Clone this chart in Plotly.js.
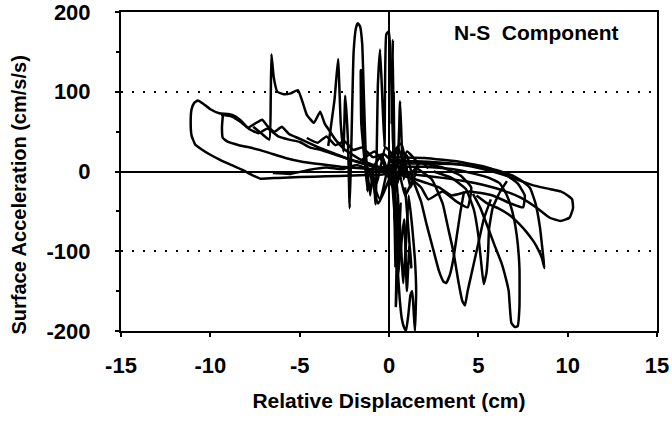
<!DOCTYPE html>
<html>
<head>
<meta charset="utf-8">
<script src="https://cdn.plot.ly/plotly-3.0.1.min.js"></script>
<style>
  html, body { margin: 0; padding: 0; background: #fff; }
  #chart { width: 672px; height: 423px; }
</style>
</head>
<body>
<div id="chart"></div>
<script>
// ---- Data (relative displacement cm, surface acceleration cm/s/s) ----
var outerLeftX = [0.6, -0.5, -2.0, -3.5, -5.0, -6.2, -7.2, -7.7, -8.2, -8.8, -9.4, -10.0, -10.5, -10.85, -11.05, -11.1, -11.05, -10.9, -10.7, -10.4, -10.0, -9.5, -9.0, -8.6, -8.2, -7.9, -7.5, -7.1, -6.8, -6.4, -6.0, -5.6, -5.1, -4.5, -3.8, -3.0, -2.2, -1.3, -0.4, 0.3];
var outerLeftY = [-2, -4, -5, -6, -7, -8, -9, -4, 2, 8, 14, 21, 28, 34, 45, 62, 78, 86, 89, 85, 78, 73, 72, 69, 62, 55, 60, 65, 57, 50, 56, 47, 42, 36, 29, 22, 15, 9, 4, 1];

var innerLeftX = [-9.3, -9.35, -9.3, -9.0, -8.4, -7.6, -6.8, -5.8, -4.8, -3.8, -2.7, -1.6, -0.5, 0.4];
var innerLeftY = [70, 55, 42, 37, 33, 29, 24, 17, 12, 9, 6, 4, 2, 0];

var upperLeftX = [-9.4, -8.8, -8.3, -7.8, -7.3, -6.8, -6.2, -5.6, -5.0, -4.4, -3.8, -3.0, -2.0, -1.0, 0.0];
var upperLeftY = [71, 69, 62, 53, 48, 54, 44, 40, 37, 30, 27, 21, 14, 7, 2];

var spikeLeftX = [-7.6, -7.1, -6.7, -6.62, -6.58, -6.45, -6.25, -5.9, -5.5, -5.1, -4.85, -4.6, -4.2, -3.85, -3.6, -3.3, -3.0, -2.5, -1.6, -0.6, 0.3];
var spikeLeftY = [56, 47, 40, 90, 147, 118, 100, 97, 98, 102, 88, 71, 61, 75, 60, 50, 40, 28, 15, 6, 0];

var upperMidX = [-4.6, -4.0, -3.5, -3.0, -2.5, -2.0, -1.5, -0.9, -0.3, 0.4, 1.0];
var upperMidY = [42, 36, 44, 33, 38, 27, 30, 18, 22, 8, 4];

var lowerLeftX = [-6.5, -5.5, -4.5, -3.5, -2.6, -1.8, -1.0, -0.2, 0.5];
var lowerLeftY = [-2, -3, 2, 5, 3, 8, 2, 6, -2];

var spikesCenterX = [-3.4, -3.05, -2.85, -2.7, -2.55, -2.45, -2.3, -2.2, -2.1, -1.98, -1.85, -1.75, -1.62, -1.5, -1.4, -1.3, -1.2, -1.55, -1.58, -1.45, -1.25, -1.05, -0.9, -0.75, -0.62, -0.5, -0.38, -0.25, -0.15, 0.0, 0.12, 0.22, 0.35, 0.5, 0.62, 0.72, 0.82, 0.95];
var spikesCenterY = [32, 90, 141, 60, 25, 95, 40, -46, 40, 150, 180, 186, 182, 160, 90, 20, -25, 60, 127, 70, 10, -30, 5, -41, 110, 153, 95, 30, 172, 176, 120, 40, 0, 15, 88, 30, -10, 5];

var negSpikesX = [0.1, 0.3, 0.45, 0.6, 0.72, 0.82, 0.95, 1.08, 1.2, 1.3, 1.38, 1.45, 1.52, 1.45, 1.3, 1.1, 0.95, 0.8, 0.62, 0.45, 0.3];
var negSpikesY = [10, -50, -110, -160, -185, -194, -200, -180, -155, -150, -175, -200, -150, -110, -70, -30, -90, -140, -70, -20, 5];

var nearZeroX = [0.15, 0.22, 0.3, 0.26, 0.36, 0.24, 0.42, 0.5, 0.38, 0.55, 0.65, 0.5, 0.85, 1.0, 1.15, 1.25, 0.9];
var nearZeroY = [60, 165, -60, 100, -120, 40, -80, -30, -170, -95, -40, -130, -60, -150, -90, -120, -20];

var centerMassX = [-1.5, -0.8, -0.3, 0.2, 0.6, 1.0, 1.3, 0.9, 0.4, -0.2, -0.7, -1.2, -0.5, 0.1, 0.7, 1.2, 1.6, 1.0, 0.3, -0.4, -1.0, -0.6, 0.0, 0.5, 1.1, 1.8, 2.2];
var centerMassY = [15, 25, 10, -20, 5, 20, -10, -30, 15, 30, -15, 5, -35, 20, 35, -20, 10, 25, -25, 20, 0, -40, -10, 30, -5, 12, 4];

var loopRightX = [0.0, 1.5, 3.0, 4.5, 5.8, 6.8, 7.4, 8.2, 9.0, 9.6, 10.0, 10.25, 10.3, 10.1, 9.6, 9.0, 8.3, 7.4, 6.4, 5.3, 4.2, 3.0, 1.5, 0.2];
var loopRightY = [12, 13, 11, 7, 0, -7, -12, -18, -22, -25, -30, -35, -46, -58, -62, -58, -46, -33, -24, -17, -12, -8, -4, 0];

var loopRight2X = [0.0, 2.0, 4.0, 5.5, 6.6, 7.2, 7.6, 7.5, 6.8, 5.8, 4.5, 3.5, 2.8, 1.5, 0.0];
var loopRight2Y = [18, 17, 12, 5, -5, -15, -30, -45, -40, -30, -25, -30, -20, -10, 0];

var loopRight3X = [0.0, 1.5, 3.0, 4.0, 4.6, 4.4, 3.8, 3.0, 2.2, 1.8, 1.0];
var loopRight3Y = [15, 12, 5, -5, -20, -45, -38, -25, -35, -20, -5];

var dipA_X = [0.5, 2.5, 4.5, 6.0, 7.0, 7.5, 7.9, 8.2, 8.45, 8.6, 8.7, 8.55, 8.35, 8.1, 7.7, 7.3, 6.7, 6.1, 5.5, 4.9];
var dipA_Y = [10, 10, 8, 2, -6, -13, -21, -40, -70, -100, -121, -108, -98, -88, -76, -66, -54, -46, -40, -30];

var dipB_X = [0.3, 2.0, 3.5, 4.8, 5.6, 6.2, 6.6, 6.9, 7.15, 7.3, 7.3, 7.2, 7.05, 6.85, 6.7, 6.55, 6.3, 5.9, 5.5, 5.1, 4.7];
var dipB_Y = [6, 6, 3, -3, -8, -15, -30, -50, -80, -120, -170, -194, -195, -190, -150, -135, -115, -92, -68, -45, -28];

var dipC_X = [2.5, 3.5, 4.3, 4.75, 5.0, 5.15, 5.3, 5.45, 5.55, 5.6, 5.8, 6.2, 6.6];
var dipC_Y = [0, -8, -22, -48, -80, -112, -141, -128, -100, -72, -46, -26, -12];

var dipD_X = [1.5, 2.4, 3.0, 3.3, 3.6, 3.9, 4.1, 4.25, 4.4, 4.6, 4.8, 5.0, 5.3, 5.7];
var dipD_Y = [5, -10, -40, -70, -100, -140, -162, -168, -150, -130, -110, -90, -60, -35];

var dipE_X = [0.9, 1.4, 1.8, 2.1, 2.5, 2.8, 3.05, 3.2, 3.4, 3.6, 3.8, 4.0, 4.2];
var dipE_Y = [0, -15, -38, -66, -100, -125, -138, -140, -130, -110, -80, -50, -25];

var xTicks = [-15, -10, -5, 0, 5, 10, 15];
var xTickText = ['-15', '-10', '-5', '0', '5', '10', '15'];
var yTicks = [-200, -100, 0, 100, 200];
var yTickText = ['-200', '-100', '0', '100', '200'];

var xTitle = 'Relative Displacement (cm)';
var yTitle = 'Surface Acceleration (cm/s/s)';
var labelText = 'N-S&nbsp; Component';

// ---- Build traces ----
var series = [
  [outerLeftX, outerLeftY], [innerLeftX, innerLeftY], [upperLeftX, upperLeftY],
  [spikeLeftX, spikeLeftY], [upperMidX, upperMidY], [lowerLeftX, lowerLeftY],
  [spikesCenterX, spikesCenterY], [negSpikesX, negSpikesY], [nearZeroX, nearZeroY],
  [centerMassX, centerMassY], [loopRightX, loopRightY], [loopRight2X, loopRight2Y],
  [loopRight3X, loopRight3Y], [dipA_X, dipA_Y], [dipB_X, dipB_Y], [dipC_X, dipC_Y],
  [dipD_X, dipD_Y], [dipE_X, dipE_Y]
];
var traces = series.map(function (s) {
  return {
    x: s[0], y: s[1], type: 'scatter', mode: 'lines',
    line: { color: '#000', width: 2.5, shape: 'spline', smoothing: 0.4 },
    hoverinfo: 'skip', showlegend: false, cliponaxis: true
  };
});

var fam = 'Liberation Sans, Arial, sans-serif';

var layout = {
  width: 672, height: 423,
  margin: { l: 121, r: 15, t: 12, b: 92 },
  paper_bgcolor: '#fff', plot_bgcolor: '#fff',
  showlegend: false,
  xaxis: {
    range: [-15, 15], tickmode: 'array', tickvals: xTicks, ticktext: xTickText,
    showgrid: false, zeroline: true, zerolinecolor: '#000', zerolinewidth: 2,
    showline: true, mirror: true, linecolor: '#000', linewidth: 2,
    ticks: 'outside', ticklen: 4, tickwidth: 2, tickcolor: '#000',
    ticklabelstandoff: 10, ticklabeloverflow: 'allow',
    tickfont: { family: fam, size: 22, color: '#000', weight: 'bold' },
    title: { text: xTitle, standoff: 16, font: { family: fam, size: 21, color: '#000', weight: 'bold' } },
    fixedrange: true
  },
  yaxis: {
    range: [-200, 200], tickmode: 'array', tickvals: yTicks, ticktext: yTickText,
    showgrid: true, gridcolor: '#000', gridwidth: 2, griddash: '2px,9px',
    zeroline: true, zerolinecolor: '#000', zerolinewidth: 2,
    showline: true, mirror: true, linecolor: '#000', linewidth: 2,
    ticks: 'outside', ticklen: 4, tickwidth: 2, tickcolor: '#000',
    minor: { tickvals: [-150, -50, 50, 150], ticks: 'outside', ticklen: 3, tickwidth: 2, tickcolor: '#000', showgrid: false },
    ticklabelstandoff: 20, ticklabeloverflow: 'allow',
    tickfont: { family: fam, size: 22, color: '#000', weight: 'bold' },
    fixedrange: true
  },
  annotations: [{
    text: labelText, xref: 'paper', yref: 'paper', x: 0.617, y: 0.935,
    xanchor: 'left', yanchor: 'middle', showarrow: false,
    font: { family: fam, size: 21, color: '#000', weight: 'bold' }
  }, {
    text: yTitle, xref: 'paper', yref: 'paper', x: -0.19, y: 0.425,
    xanchor: 'center', yanchor: 'middle', showarrow: false, textangle: -90,
    font: { family: fam, size: 20, color: '#000', weight: 'bold' }
  }]
};

Plotly.newPlot('chart', traces, layout, { staticPlot: true, displayModeBar: false });
</script>
</body>
</html>
